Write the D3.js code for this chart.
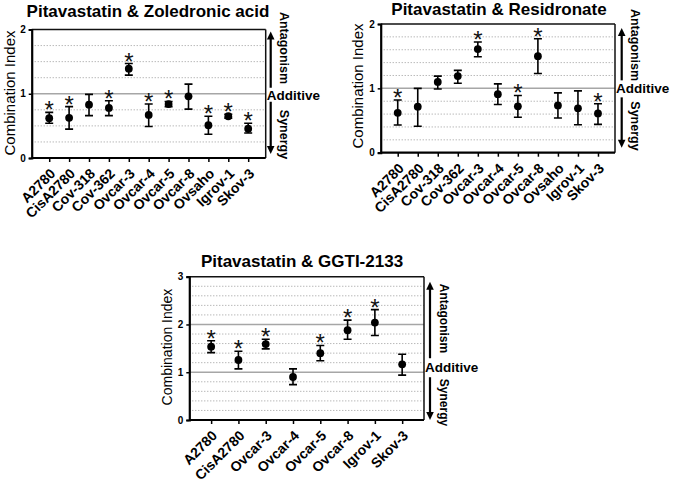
<!DOCTYPE html>
<html>
<head>
<meta charset="utf-8">
<script src="https://cdn.jsdelivr.net/npm/d3@7"></script>
<style>
  html, body { margin: 0; padding: 0; background: #fff; }
  svg { display: block; font-family: "Liberation Sans", Arial, sans-serif; }
</style>
</head>
<body>
<svg id="chart" width="675" height="484"></svg>
<script>
// ---------- Data ----------
// Panel 1: Pitavastatin & Zoledronic acid
const catsZol = ["A2780","CisA2780","Cov-318","Cov-362","Ovcar-3","Ovcar-4","Ovcar-5","Ovcar-8","Ovsaho","Igrov-1","Skov-3"];
const ciZol   = [0.62, 0.625, 0.83, 0.78, 1.39, 0.67, 0.84, 0.96, 0.51, 0.65, 0.455];
const loZol   = [0.54, 0.45, 0.66, 0.66, 1.29, 0.49, 0.80, 0.76, 0.37, 0.62, 0.39];
const hiZol   = [0.71, 0.80, 0.99, 0.89, 1.47, 0.84, 0.88, 1.15, 0.65, 0.68, 0.54];
const sigZol  = [1, 1, 0, 1, 1, 1, 1, 0, 1, 1, 1];

// Panel 2: Pitavastatin & Residronate
const catsRes = ["A2780","CisA2780","Cov-318","Cov-362","Ovcar-3","Ovcar-4","Ovcar-5","Ovcar-8","Ovsaho","Igrov-1","Skov-3"];
const ciRes   = [0.62, 0.715, 1.10, 1.19, 1.61, 0.91, 0.72, 1.50, 0.735, 0.69, 0.61];
const loRes   = [0.43, 0.41, 0.99, 1.08, 1.49, 0.75, 0.55, 1.23, 0.54, 0.435, 0.44];
const hiRes   = [0.82, 1.00, 1.19, 1.28, 1.72, 1.07, 0.89, 1.77, 0.93, 0.96, 0.76];
const sigRes  = [1, 0, 0, 0, 1, 0, 1, 1, 0, 0, 1];

// Panel 3: Pitavastatin & GGTI-2133
const catsGG = ["A2780","CisA2780","Ovcar-3","Ovcar-4","Ovcar-5","Ovcar-8","Igrov-1","Skov-3"];
const ciGG   = [1.535, 1.256, 1.59, 0.90, 1.40, 1.88, 2.04, 1.165];
const loGG   = [1.41, 1.07, 1.49, 0.74, 1.24, 1.69, 1.77, 0.94];
const hiGG   = [1.66, 1.44, 1.69, 1.07, 1.56, 2.09, 2.31, 1.375];
const sigGG  = [1, 1, 1, 0, 1, 1, 1, 0];

const ticks2 = [0, 1, 2];
const ticks3 = [0, 1, 2, 3];

// ---------- Drawing ----------
const svg = d3.select("#chart");

function drawPanel(o) {
  const g = svg.append("g");
  const x = d3.scalePoint().domain(o.cats).range([o.left, o.right]).padding(o.pad);
  const y = d3.scaleLinear().domain(o.domain).range([o.bottom, o.top]);

  // dotted grid
  const gridVals = d3.range(o.gridStep, o.domain[1] - 1e-9, o.gridStep)
    .filter(v => !o.solid.some(s => Math.abs(s - v) < 1e-6));
  g.selectAll(".grid").data(gridVals).enter().append("line")
    .attr("x1", o.left).attr("x2", o.right)
    .attr("y1", d => y(d)).attr("y2", d => y(d))
    .attr("stroke", "#9a9a9a").attr("stroke-width", 1)
    .attr("stroke-dasharray", "1,2");
  g.selectAll(".solid").data(o.solid).enter().append("line")
    .attr("x1", o.left).attr("x2", o.right)
    .attr("y1", d => y(d)).attr("y2", d => y(d))
    .attr("stroke", "#a6a6a6").attr("stroke-width", 1.5);

  // frame: top & right
  g.append("line").attr("x1", o.left).attr("x2", o.right).attr("y1", o.top).attr("y2", o.top)
    .attr("stroke", "#111").attr("stroke-width", 1.5);
  g.append("line").attr("x1", o.right).attr("x2", o.right).attr("y1", o.top).attr("y2", o.bottom)
    .attr("stroke", "#111").attr("stroke-width", 1.5);

  // y axis
  const ya = g.append("g").attr("transform", `translate(${o.left},0)`)
    .call(d3.axisLeft(y).tickValues(o.ticks).tickFormat(d3.format("d")).tickSize(3).tickPadding(3));
  ya.select(".domain").attr("stroke", "#000").attr("stroke-width", 2.2);
  ya.selectAll(".tick line").attr("stroke", "#000").attr("stroke-width", 1.5);
  ya.selectAll(".tick text").attr("font-size", 10).attr("font-weight", "bold")
    .attr("font-family", "Liberation Sans, Arial, sans-serif").attr("fill", "#000");

  // x axis
  const xa = g.append("g").attr("transform", `translate(0,${o.bottom})`)
    .call(d3.axisBottom(x).tickSize(4).tickSizeOuter(0));
  xa.select(".domain").attr("stroke", "#000").attr("stroke-width", 2.2)
    .attr("d", `M${o.left},0H${o.right}`);
  xa.selectAll(".tick line").attr("stroke", "#000").attr("stroke-width", 1.5);
  xa.selectAll(".tick text")
    .attr("font-size", 14).attr("font-weight", "bold")
    .attr("font-family", "Liberation Sans, Arial, sans-serif").attr("fill", "#000")
    .attr("text-anchor", "end")
    .attr("x", 0).attr("y", 0).attr("dy", "0.35em")
    .attr("transform", "translate(3,13) rotate(-45)");

  // error bars
  const idx = d3.range(o.cats.length);
  const cw = 4;
  g.selectAll(".eb").data(idx).enter().append("path")
    .attr("d", i => {
      const cx = x(o.cats[i]), yl = y(o.lo[i]), yh = y(o.hi[i]);
      return `M${cx},${yl}V${yh}M${cx - cw},${yh}H${cx + cw}M${cx - cw},${yl}H${cx + cw}`;
    })
    .attr("stroke", "#000").attr("stroke-width", 1.6).attr("fill", "none");
  g.selectAll(".dot").data(idx).enter().append("circle")
    .attr("cx", i => x(o.cats[i])).attr("cy", i => y(o.ci[i])).attr("r", 3.9)
    .attr("fill", "#000");

  // stars
  g.selectAll(".star").data(idx.filter(i => o.sig[i])).enter().append("text")
    .attr("x", i => x(o.cats[i])).attr("y", i => y(o.hi[i]) + 6)
    .attr("text-anchor", "middle").attr("font-size", 24).attr("fill", "#111")
    .text("*");

  // title
  g.append("text").attr("x", o.titleX).attr("y", o.titleY)
    .attr("text-anchor", "middle").attr("font-size", 17).attr("font-weight", "bold")
    .attr("fill", "#000").text(o.title);

  // y label
  g.append("text").attr("transform", `translate(${o.ylabX},${o.ylabY}) rotate(-90)`)
    .attr("text-anchor", "middle").attr("dy", "0.35em")
    .attr("font-size", o.ylabSize).attr("fill", "#000").text("Combination Index");

  // right annotations
  const ax = o.right + o.arrowDx;
  const y1 = y(1);
  const upTip = o.top + o.upTipOff, upTail = y1 - o.upTailOff;
  const dnTail = y1 + o.dnTailOff, dnTip = o.bottom - o.dnTipOff;
  const ah = 8, aw = 3.8;
  g.append("line").attr("x1", ax).attr("x2", ax).attr("y1", upTip + ah - 1).attr("y2", upTail)
    .attr("stroke", "#000").attr("stroke-width", 2.2);
  g.append("path").attr("d", `M${ax},${upTip}L${ax - aw},${upTip + ah}L${ax + aw},${upTip + ah}Z`).attr("fill", "#000");
  g.append("line").attr("x1", ax).attr("x2", ax).attr("y1", dnTail).attr("y2", dnTip - ah + 1)
    .attr("stroke", "#000").attr("stroke-width", 2.2);
  g.append("path").attr("d", `M${ax},${dnTip}L${ax - aw},${dnTip - ah}L${ax + aw},${dnTip - ah}Z`).attr("fill", "#000");

  g.append("text").attr("x", o.right + 1).attr("y", y1 + o.addOff).attr("dy", "0.35em")
    .attr("font-size", 13.5).attr("font-weight", "bold").attr("fill", "#000").text("Additive");

  g.append("text").attr("transform", `translate(${ax + 14},${o.antY}) rotate(90)`)
    .attr("text-anchor", "middle").attr("dy", "0.35em")
    .attr("font-size", o.annSize).attr("font-weight", "bold").attr("fill", "#000").text("Antagonism");
  g.append("text").attr("transform", `translate(${ax + 14},${o.synY}) rotate(90)`)
    .attr("text-anchor", "middle").attr("dy", "0.35em")
    .attr("font-size", o.annSize).attr("font-weight", "bold").attr("fill", "#000").text("Synergy");
}

drawPanel({
  cats: catsZol, ci: ciZol, lo: loZol, hi: hiZol, sig: sigZol,
  left: 31.7, right: 265.7, top: 29.5, bottom: 158, pad: 0.88,
  domain: [0, 2], ticks: ticks2, gridStep: 0.25, solid: [1],
  title: "Pitavastatin & Zoledronic acid", titleX: 148, titleY: 17,
  ylabX: 10, ylabY: 93, ylabSize: 15,
  arrowDx: 5, upTipOff: 2, upTailOff: 6, dnTailOff: 8, dnTipOff: 4, addOff: 1.5,
  antY: 48, synY: 134.5, annSize: 12.5
});

drawPanel({
  cats: catsRes, ci: ciRes, lo: loRes, hi: hiRes, sig: sigRes,
  left: 380.7, right: 615, top: 24, bottom: 152.7, pad: 0.85,
  domain: [0, 2], ticks: ticks2, gridStep: 0.2, solid: [1],
  title: "Pitavastatin & Residronate", titleX: 499, titleY: 15,
  ylabX: 358, ylabY: 86, ylabSize: 15,
  arrowDx: 6.7, upTipOff: 4, upTailOff: 8, dnTailOff: 9, dnTipOff: 5, addOff: 0,
  antY: 45, synY: 126, annSize: 12.5
});

drawPanel({
  cats: catsGG, ci: ciGG, lo: loGG, hi: hiGG, sig: sigGG,
  left: 189.3, right: 424, top: 276.7, bottom: 420, pad: 0.8,
  domain: [0, 3], ticks: ticks3, gridStep: 0.2, solid: [1, 2],
  title: "Pitavastatin & GGTI-2133", titleX: 302, titleY: 267,
  ylabX: 167, ylabY: 347, ylabSize: 14,
  arrowDx: 6, upTipOff: 5, upTailOff: 14, dnTailOff: 5, dnTipOff: 0, addOff: -5,
  antY: 318.5, synY: 402.5, annSize: 12
});
</script>
</body>
</html>
